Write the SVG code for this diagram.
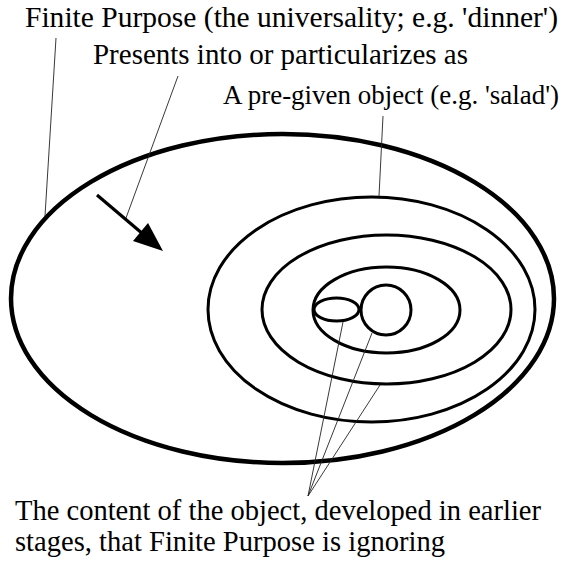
<svg xmlns="http://www.w3.org/2000/svg" width="572" height="568" viewBox="0 0 572 568">
<style>
.t{font-family:'Liberation Serif','Times New Roman',Times,serif;font-size:28.5px;fill:#000}
.ring{fill:none;stroke:#000;stroke-width:3}
.outer{fill:none;stroke:#000;stroke-width:4.5}
.lead{fill:none;stroke:#222;stroke-width:0.9}
</style>
<rect width="572" height="568" fill="#fff"/>
<g id="finite-purpose"><ellipse class="outer" cx="282.5" cy="298.5" rx="271.5" ry="164.5"/></g>
<g id="pre-given-object"><ellipse class="ring" cx="371.5" cy="309.5" rx="163.5" ry="112.5"/></g>
<g id="stage-2"><ellipse class="ring" cx="386.5" cy="309.5" rx="124.5" ry="74.5"/></g>
<g id="stage-3"><ellipse class="ring" cx="386.5" cy="310" rx="73.5" ry="43"/></g>
<g id="content-small"><ellipse class="ring" cx="336.5" cy="309.5" rx="22.5" ry="11.5"/></g>
<g id="content-circle"><circle class="ring" cx="386" cy="310" r="25"/></g>
<g id="connectors">
<path d="M97,195 L150,240" stroke="#000" stroke-width="3.2" fill="none"/>
<path d="M163,251 L133,241 L148,223 Z" fill="#000"/>
<path class="lead" d="M56,38 L45,216"/>
<path class="lead" d="M178,76 L126,218"/>
<path class="lead" d="M383,116 L379,196"/>
<path class="lead" d="M308,496 L343,322"/>
<path class="lead" d="M308,496 L372,333"/>
<path class="lead" d="M308,496 L380,385"/>
</g>
<g id="labels">
<text class="t" x="25" y="27" textLength="533" lengthAdjust="spacingAndGlyphs">Finite Purpose (the universality; e.g. 'dinner')</text>
<text class="t" x="93" y="64" textLength="375" lengthAdjust="spacingAndGlyphs">Presents into or particularizes as</text>
<text class="t" x="223" y="104" style="font-size:27px" textLength="336" lengthAdjust="spacingAndGlyphs">A pre-given object (e.g. 'salad')</text>
<text class="t" x="15" y="520" textLength="526" lengthAdjust="spacingAndGlyphs">The content of the object, developed in earlier</text>
<text class="t" x="15" y="551" textLength="430" lengthAdjust="spacingAndGlyphs">stages, that Finite Purpose is ignoring</text>
</g>
</svg>
